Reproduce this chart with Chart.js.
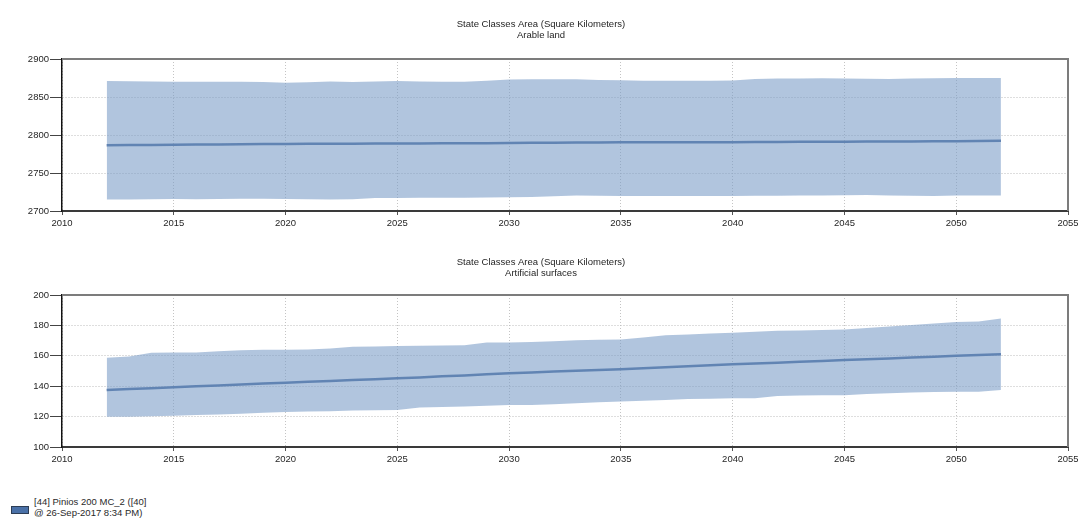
<!DOCTYPE html>
<html>
<head>
<meta charset="utf-8">
<script src="https://cdn.jsdelivr.net/npm/chart.js@4/dist/chart.umd.min.js"></script>
<style>
  html, body { margin: 0; padding: 0; background: #fff; width: 1078px; height: 518px; overflow: hidden; }
  canvas { position: absolute; left: 0; }
  #arable { top: 0; }
  #artificial { top: 240px; }
  .swatch { position: absolute; left: 11px; top: 506px; width: 18px; height: 8px; box-sizing: border-box;
            background: #4a71a8; border: 1px solid #2d3d55; }
  .legend-text { position: absolute; left: 34px; top: 497px; font: 9.5px 'Liberation Sans', Arial, sans-serif;
                 line-height: 10.5px; color: #2a2a2a; white-space: nowrap; }
</style>
</head>
<body>
<canvas id="arable" width="1090" height="240"></canvas>
<canvas id="artificial" width="1090" height="240"></canvas>
<div class="swatch"></div>
<div class="legend-text">[44] Pinios 200 MC_2 ([40]<br>@ 26-Sep-2017 8:34 PM)</div>

<script>
// Simulation years
const years = [2012, 2013, 2014, 2015, 2016, 2017, 2018, 2019, 2020, 2021,
               2022, 2023, 2024, 2025, 2026, 2027, 2028, 2029, 2030, 2031,
               2032, 2033, 2034, 2035, 2036, 2037, 2038, 2039, 2040, 2041,
               2042, 2043, 2044, 2045, 2046, 2047, 2048, 2049, 2050, 2051, 2052];

// Arable land (km²): mean and min/max envelope over Monte Carlo runs
const arableMean = [2786.6, 2786.8, 2787.0, 2787.2, 2787.4, 2787.6, 2787.8, 2788.0, 2788.3, 2788.4,
                    2788.5, 2788.6, 2788.7, 2788.8, 2788.9, 2789.0, 2789.1, 2789.3, 2789.5, 2789.7,
                    2789.9, 2790.1, 2790.2, 2790.3, 2790.4, 2790.5, 2790.5, 2790.6, 2790.6, 2790.8,
                    2790.9, 2791.0, 2791.1, 2791.2, 2791.3, 2791.5, 2791.6, 2791.8, 2791.9, 2792.1, 2792.3];
const arableMax  = [2871.0, 2870.8, 2870.3, 2870.0, 2870.0, 2870.0, 2870.0, 2869.6, 2868.8, 2869.5,
                    2870.3, 2869.8, 2870.5, 2871.0, 2870.5, 2870.2, 2870.0, 2871.5, 2873.0, 2873.2,
                    2873.3, 2873.2, 2872.5, 2872.0, 2871.3, 2871.4, 2871.5, 2871.5, 2871.6, 2873.8,
                    2874.2, 2874.5, 2874.7, 2874.5, 2874.0, 2873.8, 2874.3, 2874.6, 2875.0, 2875.0, 2875.0];
const arableMin  = [2715.0, 2715.2, 2715.5, 2715.7, 2715.4, 2715.8, 2716.0, 2716.0, 2715.8, 2715.3,
                    2715.0, 2715.6, 2717.0, 2717.2, 2717.3, 2717.5, 2717.5, 2717.8, 2718.0, 2718.5,
                    2719.5, 2720.3, 2720.0, 2719.8, 2719.7, 2719.7, 2719.6, 2719.6, 2719.6, 2720.0,
                    2720.2, 2720.3, 2720.5, 2720.8, 2721.0, 2720.5, 2720.0, 2719.8, 2720.3, 2720.5, 2720.5];

// Artificial surfaces (km²)
const artificialMean = [137.5, 138.1, 138.7, 139.3, 139.9, 140.5, 141.1, 141.7, 142.3, 142.9,
                        143.5, 144.1, 144.6, 145.2, 145.8, 146.5, 147.1, 147.8, 148.5, 149.0,
                        149.6, 150.1, 150.6, 151.1, 151.8, 152.4, 153.1, 153.8, 154.4, 155.0,
                        155.5, 156.1, 156.6, 157.2, 157.8, 158.3, 158.9, 159.4, 160.0, 160.5, 161.1];
const artificialMax  = [158.7, 159.5, 162.0, 162.1, 162.2, 163.0, 163.7, 163.9, 164.0, 164.2,
                        164.8, 165.9, 166.1, 166.4, 166.6, 166.8, 167.0, 168.8, 168.8, 169.0,
                        169.6, 170.2, 170.6, 170.8, 172.0, 173.6, 174.0, 174.6, 175.1, 175.8,
                        176.4, 176.7, 177.0, 177.3, 178.3, 179.2, 180.2, 181.2, 182.3, 182.6, 184.5];
const artificialMin  = [119.9, 119.9, 120.2, 120.5, 121.0, 121.4, 121.8, 122.5, 123.1, 123.3,
                        123.6, 124.0, 124.2, 124.4, 126.0, 126.3, 126.6, 127.2, 127.7, 127.7,
                        128.2, 128.8, 129.4, 129.9, 130.5, 131.0, 131.5, 131.8, 132.1, 132.1,
                        133.6, 133.8, 134.0, 134.1, 134.8, 135.4, 135.8, 136.2, 136.4, 136.4, 137.5];

// Axis ranges
const xRange = { min: 2010, max: 2055, step: 5 };
const arableAxis = { min: 2700, max: 2900, step: 50 };
const artificialAxis = { min: 100, max: 200, step: 20 };

const titleMain = 'State Classes Area (Square Kilometers)';
const FONT = "'Liberation Sans', Arial, sans-serif";

const BAND = 'rgba(120,155,199,0.58)';
const LINE = '#42659a';

// Two-line heading drawn above each panel
const headingPlugin = {
  id: 'heading',
  afterDraw(chart, args, opts) {
    const ctx = chart.ctx;
    ctx.save();
    ctx.font = '9.5px ' + FONT;
    ctx.fillStyle = '#1e1e1e';
    ctx.textAlign = 'center';
    ctx.textBaseline = 'middle';
    opts.lines.forEach((t, i) => ctx.fillText(t, opts.x, opts.y + i * 11.5));
    ctx.restore();
  }
};

// Grey top/right frame around the plot area
const framePlugin = {
  id: 'frame',
  afterDraw(chart) {
    const { ctx, chartArea: a } = chart;
    ctx.save();
    ctx.strokeStyle = '#7c7c7c';
    ctx.lineWidth = 2;
    ctx.beginPath();
    ctx.moveTo(a.left, a.top);
    ctx.lineTo(a.right, a.top);
    ctx.lineTo(a.right, a.bottom);
    ctx.stroke();
    ctx.restore();
  }
};

function panel(canvasId, mean, upper, lower, axis, subtitle, padTop, padBottom, headY) {
  const pts = arr => years.map((yr, i) => ({ x: yr, y: arr[i] }));
  return new Chart(document.getElementById(canvasId), {
    type: 'line',
    data: {
      datasets: [
        { data: pts(upper), fill: '+1', backgroundColor: BAND, borderWidth: 0, pointRadius: 0, tension: 0 },
        { data: pts(lower), fill: false, borderWidth: 0, pointRadius: 0, tension: 0 },
        { data: pts(mean), fill: false, borderColor: LINE, borderWidth: 2.5, pointRadius: 0, tension: 0 }
      ]
    },
    options: {
      responsive: false,
      animation: false,
      devicePixelRatio: 1,
      layout: { padding: { top: padTop, left: 7, right: 22, bottom: padBottom } },
      plugins: {
        legend: { display: false },
        tooltip: { enabled: false },
        heading: { lines: [titleMain, subtitle], x: 541, y: headY }
      },
      scales: {
        x: {
          type: 'linear',
          min: xRange.min, max: xRange.max,
          afterFit: s => { s.height = 20; },
          ticks: { stepSize: xRange.step, color: '#262626', font: { family: FONT, size: 9.5 }, padding: 3,
                   maxRotation: 0, callback: v => String(v) },
          grid: { color: '#c4c4c4', lineWidth: 1, tickLength: 4, tickColor: '#555', tickWidth: 1 },
          border: { color: '#3a3a3a', width: 2, dash: [1, 2] }
        },
        y: {
          min: axis.min, max: axis.max,
          afterFit: s => { s.width = 55; },
          ticks: { stepSize: axis.step, color: '#262626', font: { family: FONT, size: 9.5 }, padding: 1,
                   callback: v => String(v) },
          grid: { color: '#bdbdbd', lineWidth: 1, tickLength: 12, tickColor: '#444', tickWidth: 1 },
          border: { color: '#111', width: 1.5, dash: [1, 2] }
        }
      }
    },
    plugins: [headingPlugin, framePlugin]
  });
}

panel('arable', arableMean, arableMax, arableMin, arableAxis, 'Arable land', 59, 9, 24);
panel('artificial', artificialMean, artificialMax, artificialMin, artificialAxis, 'Artificial surfaces', 55, 13, 22);
</script>
</body>
</html>
